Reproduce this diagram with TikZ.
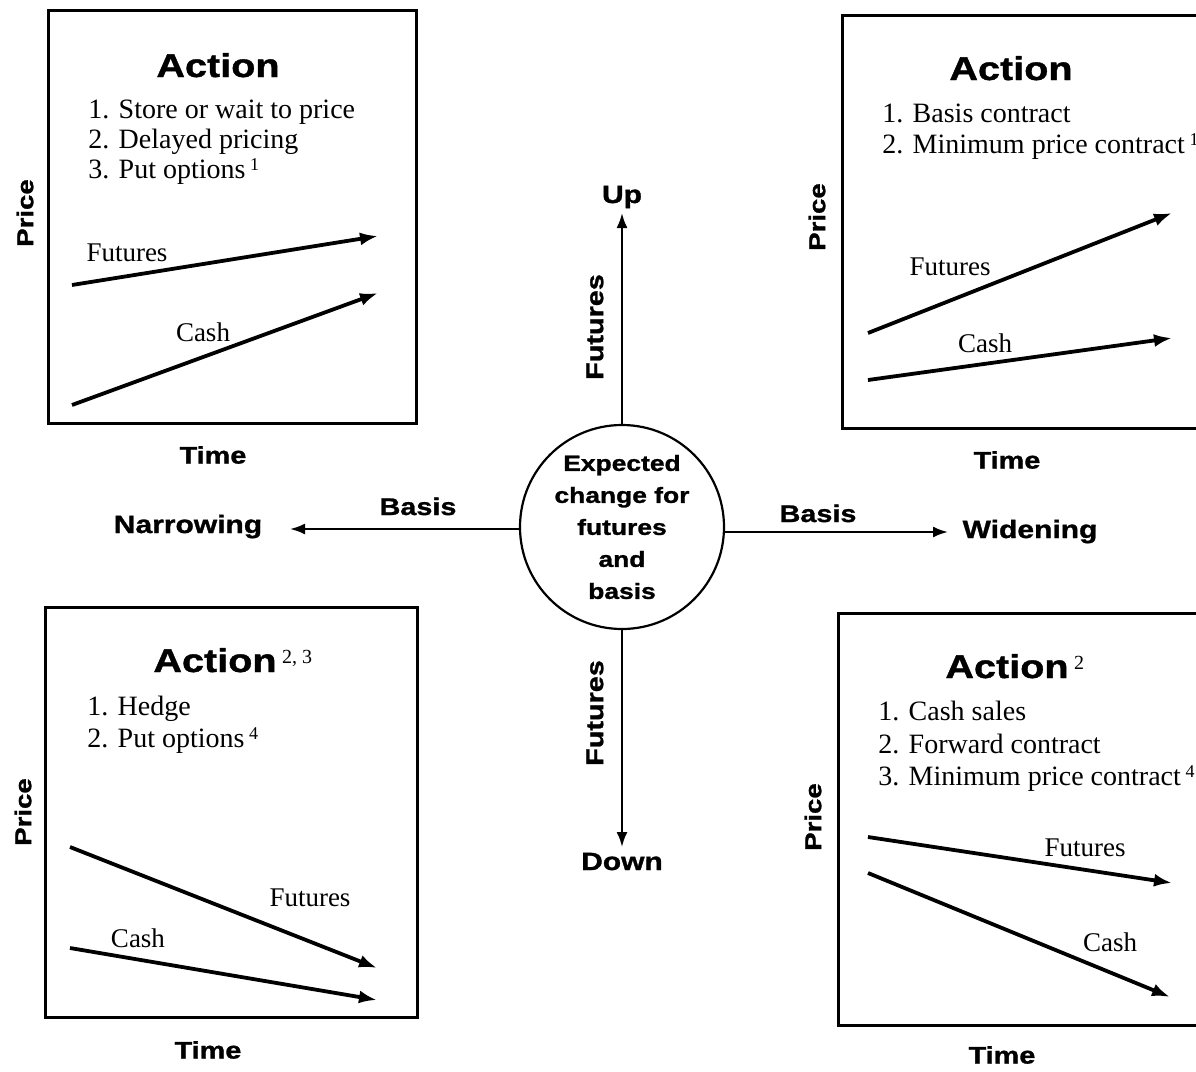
\documentclass[tikz,border=0pt]{standalone}
\usepackage{fontspec}
\setmainfont{Liberation Serif}
\newfontfamily\lblfont[FakeStretch=1.2, BoldFeatures={FakeBold=1.2}]{Liberation Sans}
\usetikzlibrary{arrows.meta}

\newcommand{\supnum}[1]{\,\raisebox{4pt}{\fontsize{9}{9}\selectfont #1}}
\newcommand{\titlenum}[1]{\,\raisebox{4.5pt}{\rmfamily\mdseries\fontsize{10}{10}\selectfont #1}}

\tikzset{
  box/.style={line width=1.5pt},
  trend/.style={->, >={Latex[length=9pt,width=6.5pt]}, line width=1.9pt},
  axis/.style={->, >={Latex[length=7.5pt,width=5.5pt]}, line width=1.1pt},
  heavy/.style={font=\lblfont\bfseries\fontsize{#1}{#1}\selectfont, inner sep=0pt},
  title/.style={heavy=16.5, anchor=base},
  item/.style={font=\fontsize{14}{14}\selectfont, anchor=base west, inner sep=0pt},
  tag/.style={font=\fontsize{13.5}{13.5}\selectfont, inner sep=0pt},
  hub/.style={draw, circle, line width=1.1pt, minimum size=102pt, inner sep=0pt, align=center,
    font=\lblfont\bfseries\fontsize{11}{16}\selectfont}
}

\begin{document}
\begin{tikzpicture}[x=0.5pt, y=-0.5pt]
\useasboundingbox (0,0) rectangle (1196,1072);

% futures up, basis narrowing
\draw[box] (48,10) rectangle (416,423);
\node[title] (tltitle) at (218,77) {Action};
\foreach \t [count=\i] in {Store or wait to price, Delayed pricing, Put options\supnum{1}}
  \node[item] (tlitem\i) at (88,{88+30*\i}) {\i. \t};
\draw[trend] (72,285) -- (378,236);
\draw[trend] (72,405) -- (378,293);
\node[tag] (tlfut) at (127,253) {Futures};
\node[tag] (tlcash) at (203,332) {Cash};
\node[heavy=11.5, rotate=90] (tlprice) at (25,213) {Price};
\node[heavy=12] (tltime) at (213,455) {Time};

% futures up, basis widening
\draw[box] (1205,15) -- (842,15) -- (842,428) -- (1205,428);
\node[title] (trtitle) at (1011,80) {Action};
\foreach \t [count=\i] in {Basis contract, Minimum price contract\supnum{1}}
  \node[item] (tritem\i) at (882,{91+31*\i}) {\i. \t};
\draw[trend] (868,333) -- (1172,213);
\draw[trend] (868,380) -- (1172,338);
\node[tag] (trfut) at (950,267) {Futures};
\node[tag] (trcash) at (985,343) {Cash};
\node[heavy=11.5, rotate=90] (trprice) at (817,217) {Price};
\node[heavy=12] (trtime) at (1007,460) {Time};

% futures down, basis narrowing
\draw[box] (45,607) rectangle (417,1017);
\node[title] (bltitle) at (215,672) {Action\rlap{\titlenum{2, 3}}};
\foreach \t [count=\i] in {Hedge, Put options\supnum{4}}
  \node[item] (blitem\i) at (87,{683+32*\i}) {\i. \t};
\draw[trend] (70,847) -- (377,968);
\draw[trend] (70,948) -- (377,1000);
\node[tag] (blfut) at (310,898) {Futures};
\node[tag] (blcash) at (138,938) {Cash};
\node[heavy=11.5, rotate=90] (blprice) at (23,812) {Price};
\node[heavy=12] (bltime) at (208,1050) {Time};

% futures down, basis widening
\draw[box] (1205,613) -- (838,613) -- (838,1025) -- (1205,1025);
\node[title] (brtitle) at (1007,678) {Action\rlap{\titlenum{2}}};
\foreach \t [count=\i] in {Cash sales, Forward contract, Minimum price contract\supnum{4}}
  \node[item] (britem\i) at (878,{688+32.5*\i}) {\i. \t};
\draw[trend] (868,837) -- (1172,883);
\draw[trend] (868,873) -- (1170,997);
\node[tag] (brfut) at (1085,848) {Futures};
\node[tag] (brcash) at (1110,942) {Cash};
\node[heavy=11.5, rotate=90] (brprice) at (813,817) {Price};
\node[heavy=12] (brtime) at (1002,1055) {Time};

% centre
\node[hub] (hub) at (622,527) {Expected\\change for\\futures\\and\\basis};
\coordinate (upend) at (622,213);
\coordinate (downend) at (622,847);
\coordinate (leftend) at (290,529);
\coordinate (rightend) at (948,532);
\draw[axis] (hub.north) -- (upend);
\draw[axis] (hub.south) -- (downend);
\draw[axis] (hub.west |- leftend) -- (leftend);
\draw[axis] (hub.east |- rightend) -- (rightend);

\node[heavy=12.5, anchor=base] (up) at (622,203) {Up};
\node[heavy=12.5, anchor=base] (down) at (622,870) {Down};
\node[heavy=12.5, anchor=base] (narrow) at (188,533) {Narrowing};
\node[heavy=12.5, anchor=base] (widen) at (1030,538) {Widening};
\node[heavy=12, anchor=base] (lbasis) at (418,515) {Basis};
\node[heavy=12, anchor=base] (rbasis) at (818,522) {Basis};
\node[heavy=12, rotate=90] (upfut) at (595,327) {Futures};
\node[heavy=12, rotate=90] (downfut) at (595,713) {Futures};
\end{tikzpicture}
\end{document}
